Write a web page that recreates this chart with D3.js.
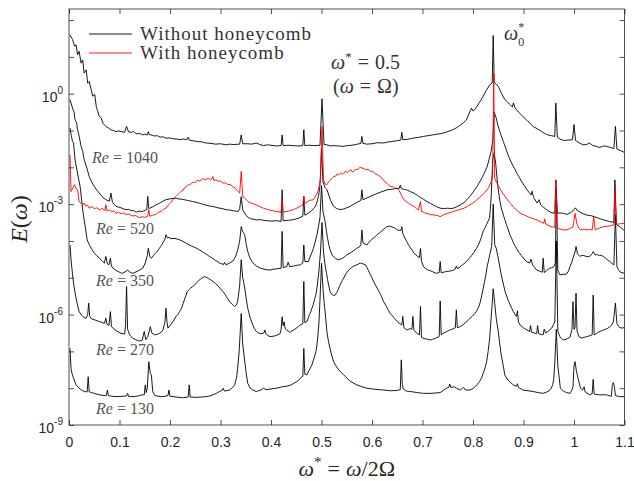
<!DOCTYPE html>
<html>
<head>
<meta charset="utf-8">
<script src="https://cdn.jsdelivr.net/npm/d3@7"></script>
<style>
  body { margin: 0; background: #fff; }
  text { fill: #262626; }
</style>
</head>
<body>
<div id="spectrumDiv"></div>
<script>
// frequency axis ticks / labels
var xTicks = [0, 0.1, 0.2, 0.3, 0.4, 0.5, 0.6, 0.7, 0.8, 0.9, 1, 1.1];
var xTickLabels = ["0", "0.1", "0.2", "0.3", "0.4", "0.5", "0.6", "0.7", "0.8", "0.9", "1", "1.1"];
var yTicks = [1e-9, 1e-8, 1e-7, 1e-6, 1e-5, 1e-4, 1e-3, 1e-2, 1e-1, 1e0, 1e1, 1e2];
var yLabelExps = [-9, -6, -3, 0];

// spectra: [omega*, log10 E]
var re1040 = [[0.002,1.60],[0.007,1.47],[0.011,1.29],[0.014,1.33],[0.017,1.06],[0.020,1.15],[0.024,0.83],[0.027,0.92],[0.030,0.56],[0.034,0.65],[0.037,0.29],[0.040,0.33],[0.044,0.11],[0.047,-0.07],[0.051,-0.02],[0.054,-0.35],[0.057,-0.48],[0.060,-0.62],[0.064,-0.66],[0.067,-0.80],[0.073,-0.89],[0.078,-0.93],[0.083,-0.98],[0.088,-1.00],[0.093,-1.03],[0.098,-1.01],[0.103,-1.03],[0.110,-1.05],[0.114,-0.89],[0.118,-1.04],[0.123,-1.05],[0.128,-1.03],[0.133,-1.09],[0.140,-1.08],[0.146,-1.12],[0.150,-1.10],[0.155,-1.12],[0.157,-1.03],[0.159,-1.11],[0.165,-1.13],[0.170,-1.15],[0.175,-1.14],[0.180,-1.18],[0.186,-1.17],[0.192,-1.21],[0.198,-1.20],[0.205,-1.22],[0.212,-1.23],[0.220,-1.25],[0.226,-1.23],[0.233,-1.25],[0.236,-1.18],[0.238,-1.26],[0.246,-1.28],[0.255,-1.30],[0.263,-1.31],[0.272,-1.34],[0.281,-1.35],[0.290,-1.37],[0.300,-1.36],[0.311,-1.39],[0.318,-1.37],[0.325,-1.38],[0.338,-1.37],[0.341,-1.12],[0.344,-1.36],[0.354,-1.36],[0.362,-1.37],[0.371,-1.34],[0.378,-1.38],[0.385,-1.41],[0.393,-1.39],[0.400,-1.40],[0.410,-1.42],[0.420,-1.41],[0.422,-1.12],[0.424,-1.41],[0.434,-1.40],[0.444,-1.41],[0.453,-1.42],[0.463,-1.41],[0.465,-0.98],[0.467,-1.41],[0.475,-1.40],[0.484,-1.41],[0.497,-1.40],[0.501,-0.14],[0.505,-1.38],[0.511,-1.39],[0.518,-1.42],[0.525,-1.41],[0.534,-1.42],[0.543,-1.43],[0.552,-1.41],[0.560,-1.40],[0.568,-1.38],[0.578,-1.35],[0.580,-1.16],[0.582,-1.35],[0.590,-1.37],[0.600,-1.36],[0.611,-1.33],[0.623,-1.34],[0.632,-1.31],[0.640,-1.30],[0.648,-1.28],[0.657,-1.26],[0.659,-1.05],[0.661,-1.25],[0.670,-1.24],[0.680,-1.21],[0.690,-1.19],[0.702,-1.16],[0.711,-1.14],[0.720,-1.12],[0.728,-1.10],[0.735,-1.09],[0.748,-1.04],[0.760,-0.98],[0.768,-0.92],[0.775,-0.85],[0.781,-0.79],[0.787,-0.71],[0.792,-0.55],[0.795,-0.45],[0.797,-0.39],[0.800,-0.47],[0.803,-0.44],[0.808,-0.34],[0.812,-0.25],[0.816,-0.17],[0.820,-0.07],[0.826,0.08],[0.833,0.24],[0.838,0.29],[0.840,1.58],[0.842,0.30],[0.846,0.26],[0.850,0.20],[0.856,0.02],[0.863,-0.16],[0.868,-0.22],[0.872,-0.28],[0.878,-0.36],[0.880,-0.25],[0.883,-0.38],[0.890,-0.50],[0.899,-0.62],[0.908,-0.74],[0.919,-0.89],[0.927,-0.95],[0.935,-1.02],[0.946,-1.11],[0.955,-1.14],[0.962,-1.16],[0.964,-0.25],[0.967,-1.18],[0.972,-1.23],[0.979,-1.27],[0.988,-1.26],[0.997,-1.25],[1.000,-0.84],[1.003,-1.27],[1.010,-1.33],[1.018,-1.39],[1.025,-1.38],[1.031,-1.34],[1.036,-1.40],[1.044,-1.43],[1.051,-1.46],[1.058,-1.42],[1.064,-1.43],[1.072,-1.46],[1.079,-1.49],[1.082,-0.89],[1.085,-1.51],[1.095,-1.56],[1.100,-1.60]];

var re520 = [[0.002,-0.16],[0.007,-0.39],[0.010,-0.50],[0.012,-0.71],[0.015,-0.78],[0.017,-0.98],[0.020,-1.15],[0.024,-1.43],[0.027,-1.55],[0.030,-1.79],[0.035,-2.00],[0.040,-2.25],[0.045,-2.40],[0.050,-2.52],[0.055,-2.62],[0.060,-2.70],[0.066,-2.80],[0.073,-2.88],[0.080,-2.92],[0.083,-2.70],[0.086,-2.95],[0.093,-3.06],[0.098,-3.08],[0.103,-3.10],[0.108,-3.13],[0.113,-3.15],[0.118,-3.14],[0.123,-3.18],[0.128,-3.17],[0.133,-3.22],[0.139,-3.19],[0.145,-3.20],[0.154,-3.15],[0.156,-2.79],[0.158,-3.12],[0.165,-3.08],[0.172,-3.02],[0.177,-2.99],[0.182,-2.95],[0.187,-2.91],[0.192,-2.88],[0.202,-2.85],[0.212,-2.84],[0.218,-2.86],[0.225,-2.87],[0.235,-2.90],[0.245,-2.93],[0.252,-2.95],[0.260,-2.98],[0.269,-3.02],[0.278,-3.05],[0.287,-3.07],[0.295,-3.10],[0.303,-3.12],[0.311,-3.15],[0.318,-3.16],[0.325,-3.18],[0.335,-3.20],[0.338,-3.12],[0.341,-2.80],[0.344,-3.15],[0.350,-3.30],[0.355,-3.36],[0.360,-3.40],[0.366,-3.41],[0.371,-3.43],[0.378,-3.42],[0.385,-3.44],[0.392,-3.45],[0.400,-3.46],[0.410,-3.45],[0.420,-3.47],[0.422,-2.61],[0.424,-3.45],[0.434,-3.44],[0.445,-3.42],[0.455,-3.38],[0.463,-3.33],[0.465,-2.79],[0.467,-3.30],[0.474,-3.25],[0.480,-3.18],[0.486,-3.10],[0.490,-3.00],[0.494,-2.79],[0.497,-2.50],[0.500,-1.50],[0.503,-2.40],[0.507,-2.55],[0.511,-2.61],[0.515,-2.78],[0.518,-2.90],[0.524,-3.06],[0.530,-3.12],[0.537,-3.15],[0.544,-3.13],[0.550,-3.10],[0.557,-3.06],[0.564,-3.00],[0.570,-2.95],[0.578,-2.90],[0.580,-2.61],[0.582,-2.88],[0.592,-2.82],[0.603,-2.75],[0.616,-2.68],[0.630,-2.61],[0.638,-2.60],[0.645,-2.58],[0.654,-2.57],[0.656,-2.48],[0.658,-2.58],[0.664,-2.60],[0.670,-2.62],[0.676,-2.66],[0.683,-2.70],[0.690,-2.76],[0.696,-2.82],[0.702,-2.87],[0.709,-2.93],[0.716,-2.98],[0.722,-3.03],[0.728,-3.07],[0.735,-3.11],[0.742,-3.12],[0.750,-3.11],[0.756,-3.12],[0.761,-3.11],[0.768,-3.07],[0.775,-3.02],[0.782,-2.96],[0.788,-2.88],[0.793,-2.80],[0.798,-2.72],[0.803,-2.62],[0.808,-2.52],[0.813,-2.40],[0.818,-2.28],[0.823,-2.14],[0.828,-1.98],[0.832,-1.78],[0.836,-1.55],[0.839,-1.30],[0.842,-0.50],[0.846,-0.66],[0.850,-0.90],[0.854,-1.07],[0.860,-1.30],[0.864,-1.45],[0.868,-1.61],[0.872,-1.75],[0.877,-1.90],[0.882,-2.03],[0.887,-2.16],[0.892,-2.28],[0.897,-2.40],[0.902,-2.51],[0.907,-2.61],[0.911,-2.68],[0.915,-2.75],[0.917,-2.65],[0.920,-2.82],[0.927,-2.97],[0.931,-2.88],[0.934,-3.02],[0.940,-3.09],[0.946,-3.15],[0.953,-3.22],[0.962,-3.25],[0.964,-2.34],[0.967,-3.25],[0.972,-3.24],[0.979,-3.25],[0.986,-3.28],[0.995,-3.22],[1.003,-3.10],[1.006,-3.17],[1.010,-3.20],[1.018,-3.26],[1.026,-3.30],[1.033,-3.31],[1.040,-3.34],[1.050,-3.39],[1.059,-3.43],[1.070,-3.47],[1.079,-3.50],[1.081,-2.34],[1.084,-3.55],[1.092,-3.63],[1.100,-3.72]];

var re520Honeycomb = [[0.002,-1.66],[0.004,-2.66],[0.008,-2.55],[0.011,-2.47],[0.014,-2.58],[0.017,-2.61],[0.020,-2.93],[0.024,-2.98],[0.027,-3.02],[0.030,-2.97],[0.033,-3.05],[0.037,-3.03],[0.040,-3.11],[0.045,-3.07],[0.050,-3.12],[0.055,-3.10],[0.060,-3.15],[0.066,-3.12],[0.071,-3.17],[0.073,-3.02],[0.075,-3.18],[0.080,-3.16],[0.085,-3.20],[0.089,-3.18],[0.093,-3.25],[0.098,-3.22],[0.103,-3.26],[0.108,-3.24],[0.113,-3.28],[0.119,-3.27],[0.125,-3.32],[0.132,-3.31],[0.139,-3.37],[0.145,-3.34],[0.150,-3.36],[0.156,-3.33],[0.158,-3.15],[0.160,-3.33],[0.166,-3.30],[0.172,-3.28],[0.177,-3.22],[0.182,-3.20],[0.187,-3.14],[0.192,-3.11],[0.197,-3.02],[0.202,-2.95],[0.207,-2.85],[0.212,-2.79],[0.217,-2.72],[0.222,-2.65],[0.226,-2.62],[0.229,-2.55],[0.232,-2.52],[0.236,-2.47],[0.239,-2.48],[0.242,-2.44],[0.246,-2.40],[0.249,-2.42],[0.252,-2.38],[0.256,-2.35],[0.259,-2.38],[0.262,-2.34],[0.266,-2.30],[0.269,-2.35],[0.272,-2.32],[0.276,-2.30],[0.280,-2.34],[0.283,-2.31],[0.285,-2.25],[0.287,-2.36],[0.291,-2.34],[0.296,-2.38],[0.300,-2.37],[0.305,-2.43],[0.309,-2.42],[0.315,-2.47],[0.319,-2.46],[0.324,-2.52],[0.328,-2.55],[0.332,-2.62],[0.335,-2.66],[0.338,-2.70],[0.341,-2.11],[0.344,-2.80],[0.348,-2.84],[0.351,-2.88],[0.355,-2.93],[0.360,-2.97],[0.365,-2.99],[0.371,-3.02],[0.378,-3.07],[0.385,-3.11],[0.392,-3.14],[0.400,-3.17],[0.410,-3.20],[0.420,-3.22],[0.422,-2.88],[0.424,-3.22],[0.434,-3.19],[0.445,-3.15],[0.455,-3.08],[0.463,-3.02],[0.465,-2.79],[0.467,-2.98],[0.476,-2.90],[0.484,-2.88],[0.490,-2.75],[0.494,-2.61],[0.498,-2.30],[0.501,-0.89],[0.504,-2.35],[0.507,-2.45],[0.511,-2.47],[0.514,-2.40],[0.517,-2.35],[0.521,-2.30],[0.524,-2.25],[0.528,-2.24],[0.531,-2.18],[0.534,-2.20],[0.538,-2.15],[0.541,-2.19],[0.544,-2.16],[0.548,-2.10],[0.551,-2.14],[0.554,-2.12],[0.558,-2.06],[0.561,-2.12],[0.564,-2.11],[0.568,-2.05],[0.572,-2.06],[0.576,-2.00],[0.580,-2.02],[0.584,-2.03],[0.588,-2.07],[0.592,-2.05],[0.597,-2.11],[0.601,-2.10],[0.606,-2.17],[0.611,-2.20],[0.616,-2.25],[0.620,-2.30],[0.626,-2.40],[0.631,-2.45],[0.636,-2.52],[0.641,-2.52],[0.645,-2.57],[0.649,-2.56],[0.653,-2.61],[0.658,-2.75],[0.663,-2.88],[0.668,-2.93],[0.673,-2.98],[0.678,-3.03],[0.683,-3.06],[0.688,-3.12],[0.692,-3.16],[0.696,-2.93],[0.698,-3.20],[0.702,-3.22],[0.706,-3.25],[0.711,-3.26],[0.716,-3.28],[0.721,-3.29],[0.725,-3.30],[0.730,-3.31],[0.735,-3.34],[0.742,-3.29],[0.749,-3.25],[0.757,-3.22],[0.765,-3.18],[0.773,-3.15],[0.782,-3.11],[0.789,-3.06],[0.796,-3.00],[0.802,-2.95],[0.808,-2.88],[0.813,-2.82],[0.818,-2.76],[0.823,-2.69],[0.828,-2.61],[0.832,-2.52],[0.836,-2.40],[0.839,-2.20],[0.841,0.56],[0.843,-2.30],[0.847,-2.42],[0.851,-2.52],[0.855,-2.62],[0.860,-2.72],[0.864,-2.80],[0.868,-2.88],[0.874,-2.98],[0.880,-3.08],[0.887,-3.17],[0.894,-3.25],[0.902,-3.30],[0.910,-3.35],[0.918,-3.39],[0.927,-3.43],[0.934,-3.48],[0.940,-3.52],[0.942,-3.40],[0.944,-3.54],[0.948,-3.57],[0.953,-3.61],[0.962,-3.63],[0.964,-2.37],[0.967,-3.65],[0.973,-3.68],[0.979,-3.70],[0.986,-3.70],[0.992,-3.66],[0.998,-3.62],[1.002,-3.25],[1.006,-3.55],[1.010,-3.66],[1.013,-3.70],[1.020,-3.68],[1.026,-3.70],[1.031,-3.69],[1.036,-3.70],[1.039,-3.34],[1.042,-3.70],[1.050,-3.65],[1.059,-3.61],[1.067,-3.60],[1.075,-3.58],[1.079,-3.56],[1.081,-2.61],[1.084,-3.55],[1.092,-3.53],[1.100,-3.52]];

var re350 = [[0.002,-0.93],[0.004,-1.10],[0.007,-1.30],[0.009,-1.34],[0.012,-1.80],[0.016,-2.10],[0.022,-2.52],[0.028,-3.25],[0.032,-3.60],[0.036,-3.97],[0.040,-4.10],[0.045,-4.22],[0.050,-4.33],[0.055,-4.40],[0.060,-4.47],[0.066,-4.55],[0.070,-4.60],[0.073,-4.42],[0.076,-4.62],[0.079,-4.65],[0.082,-4.47],[0.084,-4.68],[0.087,-4.74],[0.092,-4.79],[0.097,-4.83],[0.102,-4.86],[0.106,-4.88],[0.111,-4.84],[0.116,-4.79],[0.121,-4.85],[0.126,-4.88],[0.131,-4.85],[0.136,-4.82],[0.141,-4.78],[0.146,-4.74],[0.151,-4.60],[0.155,-4.40],[0.157,-4.20],[0.160,-4.42],[0.163,-4.47],[0.167,-4.40],[0.170,-4.35],[0.175,-4.28],[0.179,-4.20],[0.183,-4.12],[0.186,-4.05],[0.190,-3.95],[0.192,-3.83],[0.195,-3.92],[0.198,-3.90],[0.202,-3.94],[0.206,-3.93],[0.212,-3.94],[0.219,-3.97],[0.224,-4.00],[0.228,-4.03],[0.233,-4.07],[0.238,-4.11],[0.243,-4.14],[0.248,-4.17],[0.253,-4.20],[0.258,-4.24],[0.263,-4.28],[0.268,-4.33],[0.273,-4.37],[0.278,-4.42],[0.283,-4.46],[0.288,-4.51],[0.293,-4.55],[0.298,-4.60],[0.302,-4.62],[0.306,-4.64],[0.308,-4.58],[0.311,-4.65],[0.318,-4.60],[0.324,-4.55],[0.328,-4.47],[0.331,-4.38],[0.334,-4.24],[0.338,-4.00],[0.341,-3.61],[0.344,-3.75],[0.348,-3.83],[0.351,-4.10],[0.354,-4.29],[0.358,-4.45],[0.362,-4.55],[0.366,-4.62],[0.371,-4.68],[0.379,-4.74],[0.390,-4.78],[0.398,-4.79],[0.404,-4.77],[0.410,-4.76],[0.420,-4.74],[0.422,-3.74],[0.424,-4.72],[0.431,-4.70],[0.434,-4.58],[0.437,-4.70],[0.445,-4.68],[0.452,-4.66],[0.458,-4.65],[0.463,-4.60],[0.465,-4.11],[0.467,-4.56],[0.474,-4.56],[0.477,-4.45],[0.480,-4.35],[0.484,-4.20],[0.488,-4.00],[0.491,-3.83],[0.494,-3.60],[0.497,-3.37],[0.500,-2.50],[0.503,-3.20],[0.507,-3.47],[0.510,-3.75],[0.512,-3.93],[0.516,-4.20],[0.521,-4.38],[0.528,-4.48],[0.534,-4.51],[0.542,-4.47],[0.550,-4.38],[0.560,-4.30],[0.570,-4.20],[0.576,-4.15],[0.578,-4.10],[0.580,-3.70],[0.582,-4.05],[0.586,-4.08],[0.590,-4.11],[0.595,-4.02],[0.600,-3.95],[0.605,-3.90],[0.610,-3.83],[0.615,-3.78],[0.620,-3.72],[0.625,-3.66],[0.630,-3.61],[0.635,-3.60],[0.640,-3.62],[0.645,-3.65],[0.650,-3.70],[0.657,-3.72],[0.659,-3.61],[0.661,-3.80],[0.665,-3.92],[0.669,-4.02],[0.672,-4.10],[0.676,-4.18],[0.680,-4.26],[0.683,-4.33],[0.687,-4.38],[0.690,-4.42],[0.694,-4.45],[0.696,-4.20],[0.698,-4.55],[0.702,-4.70],[0.706,-4.75],[0.710,-4.78],[0.719,-4.83],[0.727,-4.88],[0.733,-4.86],[0.735,-4.56],[0.737,-4.86],[0.742,-4.85],[0.747,-4.83],[0.754,-4.82],[0.760,-4.80],[0.765,-4.76],[0.767,-4.68],[0.769,-4.75],[0.773,-4.72],[0.777,-4.67],[0.782,-4.62],[0.787,-4.56],[0.792,-4.48],[0.797,-4.40],[0.802,-4.31],[0.807,-4.20],[0.811,-4.10],[0.814,-4.00],[0.817,-3.88],[0.820,-3.74],[0.824,-3.64],[0.827,-3.55],[0.830,-3.46],[0.833,-3.37],[0.836,-2.80],[0.839,-1.80],[0.842,-1.60],[0.845,-1.90],[0.849,-2.50],[0.853,-2.90],[0.856,-3.10],[0.860,-3.29],[0.863,-3.42],[0.866,-3.55],[0.870,-3.70],[0.873,-3.83],[0.877,-3.95],[0.880,-4.05],[0.883,-4.13],[0.886,-4.20],[0.891,-4.31],[0.896,-4.40],[0.901,-4.49],[0.906,-4.56],[0.912,-4.60],[0.915,-4.50],[0.918,-4.65],[0.922,-4.72],[0.926,-4.79],[0.932,-4.82],[0.937,-4.85],[0.939,-4.47],[0.941,-4.86],[0.946,-4.80],[0.952,-4.74],[0.956,-4.73],[0.960,-4.70],[0.963,-4.60],[0.965,-2.60],[0.968,-4.80],[0.972,-4.92],[0.978,-4.91],[0.985,-4.90],[0.989,-4.82],[0.992,-4.70],[0.995,-4.60],[0.998,-4.47],[1.002,-4.30],[1.004,-4.15],[1.007,-4.35],[1.012,-4.42],[1.016,-4.39],[1.020,-4.40],[1.026,-4.43],[1.031,-4.42],[1.036,-4.35],[1.038,-4.29],[1.042,-4.38],[1.046,-4.37],[1.050,-4.40],[1.054,-4.39],[1.058,-4.42],[1.062,-4.46],[1.065,-4.50],[1.071,-4.56],[1.075,-4.61],[1.079,-4.65],[1.082,-3.29],[1.085,-4.70],[1.088,-4.78],[1.092,-4.85],[1.100,-4.88]];

var re270 = [[0.002,-4.11],[0.004,-4.50],[0.007,-4.92],[0.010,-5.25],[0.014,-5.56],[0.017,-5.75],[0.020,-5.92],[0.025,-6.02],[0.030,-6.08],[0.034,-6.10],[0.037,-6.00],[0.039,-5.69],[0.041,-6.05],[0.045,-6.12],[0.052,-6.15],[0.060,-6.19],[0.065,-6.21],[0.070,-6.24],[0.073,-6.10],[0.075,-6.26],[0.079,-6.30],[0.082,-5.92],[0.084,-6.32],[0.087,-6.37],[0.091,-6.41],[0.095,-6.45],[0.099,-6.48],[0.103,-6.51],[0.110,-6.53],[0.112,-6.30],[0.114,-5.24],[0.116,-6.40],[0.120,-6.55],[0.123,-6.60],[0.126,-6.64],[0.132,-6.68],[0.139,-6.72],[0.145,-6.70],[0.149,-6.46],[0.152,-6.68],[0.156,-6.60],[0.161,-6.33],[0.164,-6.50],[0.169,-6.55],[0.174,-6.54],[0.179,-6.51],[0.183,-6.47],[0.186,-6.42],[0.190,-6.20],[0.192,-5.83],[0.194,-6.20],[0.196,-6.37],[0.201,-6.28],[0.206,-6.19],[0.209,-6.12],[0.212,-6.05],[0.216,-5.99],[0.219,-5.92],[0.223,-5.82],[0.226,-5.70],[0.229,-5.58],[0.232,-5.47],[0.234,-5.38],[0.238,-5.32],[0.241,-5.28],[0.245,-5.24],[0.249,-5.19],[0.252,-5.15],[0.255,-5.10],[0.258,-5.06],[0.263,-5.01],[0.268,-4.97],[0.272,-4.99],[0.276,-5.02],[0.280,-5.05],[0.285,-5.10],[0.290,-5.15],[0.295,-5.22],[0.300,-5.30],[0.305,-5.38],[0.309,-5.45],[0.312,-5.52],[0.315,-5.58],[0.318,-5.65],[0.323,-5.72],[0.328,-5.78],[0.331,-5.75],[0.334,-5.65],[0.338,-5.20],[0.341,-4.51],[0.344,-5.00],[0.348,-5.28],[0.351,-5.58],[0.354,-5.83],[0.359,-6.10],[0.364,-6.28],[0.367,-6.38],[0.371,-6.46],[0.375,-6.50],[0.380,-6.52],[0.386,-6.50],[0.388,-6.42],[0.390,-6.52],[0.394,-6.57],[0.398,-6.60],[0.404,-6.59],[0.410,-6.57],[0.418,-6.52],[0.420,-6.40],[0.422,-6.06],[0.424,-6.30],[0.426,-6.20],[0.428,-6.38],[0.431,-6.42],[0.437,-6.48],[0.441,-6.45],[0.445,-6.42],[0.452,-6.35],[0.458,-6.28],[0.463,-6.25],[0.465,-5.10],[0.467,-6.22],[0.471,-6.19],[0.474,-6.09],[0.476,-6.00],[0.479,-5.92],[0.481,-5.83],[0.484,-5.72],[0.486,-5.60],[0.489,-5.45],[0.491,-5.28],[0.495,-4.80],[0.498,-4.30],[0.501,-3.50],[0.504,-4.30],[0.507,-4.65],[0.510,-4.88],[0.512,-5.05],[0.515,-5.25],[0.517,-5.38],[0.521,-5.46],[0.524,-5.48],[0.527,-5.47],[0.530,-5.41],[0.532,-5.35],[0.537,-5.19],[0.541,-5.08],[0.545,-4.98],[0.549,-4.88],[0.554,-4.79],[0.558,-4.74],[0.562,-4.70],[0.566,-4.67],[0.570,-4.65],[0.574,-4.62],[0.577,-4.60],[0.582,-4.62],[0.587,-4.65],[0.590,-4.72],[0.592,-4.78],[0.597,-4.92],[0.600,-5.00],[0.603,-5.10],[0.607,-5.20],[0.610,-5.28],[0.614,-5.38],[0.617,-5.46],[0.620,-5.55],[0.623,-5.65],[0.627,-5.74],[0.630,-5.82],[0.633,-5.90],[0.636,-5.97],[0.640,-6.03],[0.643,-6.08],[0.647,-6.14],[0.650,-6.19],[0.655,-6.25],[0.659,-6.28],[0.661,-6.05],[0.663,-6.35],[0.669,-6.42],[0.676,-6.38],[0.679,-6.40],[0.681,-6.05],[0.683,-6.42],[0.688,-6.50],[0.694,-6.55],[0.696,-5.78],[0.698,-6.62],[0.705,-6.66],[0.710,-6.67],[0.716,-6.69],[0.720,-6.67],[0.725,-6.65],[0.733,-6.60],[0.735,-5.63],[0.737,-6.55],[0.741,-6.51],[0.745,-6.48],[0.750,-6.45],[0.754,-6.42],[0.758,-6.40],[0.762,-6.38],[0.765,-6.36],[0.767,-5.87],[0.769,-6.36],[0.774,-6.33],[0.780,-6.28],[0.785,-6.22],[0.790,-6.16],[0.794,-6.10],[0.799,-6.04],[0.803,-5.98],[0.807,-5.91],[0.810,-5.83],[0.814,-5.68],[0.817,-5.50],[0.820,-5.30],[0.823,-5.10],[0.826,-4.88],[0.828,-4.70],[0.831,-4.52],[0.833,-4.38],[0.837,-4.15],[0.840,-3.00],[0.843,-4.10],[0.846,-4.20],[0.849,-4.40],[0.851,-4.55],[0.854,-4.78],[0.856,-4.92],[0.858,-5.05],[0.861,-5.22],[0.863,-5.35],[0.866,-5.47],[0.870,-5.62],[0.873,-5.72],[0.877,-5.84],[0.880,-5.92],[0.883,-5.99],[0.886,-6.05],[0.888,-5.90],[0.890,-6.20],[0.893,-6.28],[0.898,-6.34],[0.902,-6.38],[0.907,-6.42],[0.912,-6.46],[0.914,-6.30],[0.916,-6.48],[0.921,-6.50],[0.926,-6.52],[0.928,-6.30],[0.930,-6.52],[0.935,-6.54],[0.939,-6.55],[0.941,-6.40],[0.944,-6.50],[0.948,-6.46],[0.952,-6.42],[0.956,-6.36],[0.959,-6.28],[0.962,-6.20],[0.965,-4.00],[0.968,-6.45],[0.972,-6.60],[0.975,-6.65],[0.979,-6.69],[0.985,-6.67],[0.992,-6.62],[0.996,-6.40],[0.998,-5.65],[1.000,-6.40],[1.002,-6.35],[1.004,-5.42],[1.006,-6.45],[1.010,-6.60],[1.015,-6.64],[1.020,-6.62],[1.025,-6.60],[1.030,-6.58],[1.036,-6.55],[1.038,-5.47],[1.040,-6.55],[1.044,-6.52],[1.048,-6.48],[1.053,-6.45],[1.058,-6.42],[1.062,-6.40],[1.066,-6.38],[1.071,-6.33],[1.075,-6.28],[1.078,-6.20],[1.082,-5.69],[1.085,-6.25],[1.090,-6.35],[1.097,-6.37],[1.100,-6.33]];

var re130 = [[0.002,-6.92],[0.004,-7.46],[0.006,-7.60],[0.009,-7.73],[0.014,-7.91],[0.020,-8.00],[0.025,-8.05],[0.030,-8.09],[0.036,-8.10],[0.038,-7.69],[0.040,-8.10],[0.045,-8.12],[0.050,-8.14],[0.055,-8.16],[0.060,-8.18],[0.070,-8.20],[0.074,-8.20],[0.076,-8.05],[0.078,-8.20],[0.085,-8.22],[0.093,-8.23],[0.105,-8.22],[0.114,-8.21],[0.116,-8.14],[0.118,-8.22],[0.130,-8.23],[0.140,-8.20],[0.145,-8.18],[0.149,-8.18],[0.151,-7.91],[0.153,-8.12],[0.155,-8.00],[0.158,-7.28],[0.161,-7.60],[0.163,-7.64],[0.166,-8.10],[0.170,-8.20],[0.182,-8.23],[0.190,-8.22],[0.196,-8.20],[0.198,-8.05],[0.200,-8.22],[0.212,-8.24],[0.225,-8.26],[0.236,-8.24],[0.238,-7.91],[0.240,-8.24],[0.250,-8.25],[0.262,-8.24],[0.272,-8.23],[0.279,-8.21],[0.285,-8.18],[0.292,-8.14],[0.298,-8.09],[0.303,-8.06],[0.305,-8.00],[0.308,-8.08],[0.318,-8.05],[0.324,-7.98],[0.328,-7.91],[0.332,-7.70],[0.334,-7.46],[0.337,-7.00],[0.341,-5.97],[0.344,-6.80],[0.348,-7.28],[0.351,-7.60],[0.354,-7.87],[0.359,-8.00],[0.364,-8.05],[0.371,-8.09],[0.380,-8.05],[0.385,-8.00],[0.390,-8.04],[0.400,-8.02],[0.410,-8.00],[0.418,-7.98],[0.422,-7.96],[0.430,-7.95],[0.438,-7.92],[0.445,-7.87],[0.450,-7.83],[0.455,-7.78],[0.461,-7.69],[0.463,-7.68],[0.465,-6.92],[0.467,-7.62],[0.471,-7.64],[0.476,-7.50],[0.481,-7.37],[0.486,-7.15],[0.489,-7.00],[0.491,-6.83],[0.493,-6.55],[0.495,-6.20],[0.497,-5.60],[0.500,-4.60],[0.503,-5.30],[0.505,-5.65],[0.507,-5.90],[0.509,-6.20],[0.511,-6.50],[0.514,-6.74],[0.519,-7.05],[0.524,-7.28],[0.528,-7.38],[0.533,-7.48],[0.538,-7.56],[0.544,-7.64],[0.550,-7.72],[0.556,-7.80],[0.563,-7.86],[0.570,-7.91],[0.580,-7.96],[0.590,-8.00],[0.605,-8.03],[0.623,-8.05],[0.637,-8.07],[0.650,-8.06],[0.656,-8.04],[0.658,-7.23],[0.660,-7.90],[0.662,-8.02],[0.668,-8.08],[0.676,-8.09],[0.690,-8.12],[0.702,-8.14],[0.718,-8.14],[0.735,-8.12],[0.741,-8.06],[0.747,-8.00],[0.752,-7.98],[0.754,-7.89],[0.756,-7.98],[0.762,-7.96],[0.767,-8.00],[0.775,-8.05],[0.781,-7.98],[0.786,-8.05],[0.794,-8.05],[0.800,-8.01],[0.805,-7.95],[0.809,-7.89],[0.813,-7.82],[0.817,-7.72],[0.820,-7.60],[0.824,-7.45],[0.827,-7.28],[0.830,-7.00],[0.833,-6.64],[0.837,-5.90],[0.840,-5.30],[0.843,-5.70],[0.846,-6.10],[0.850,-6.46],[0.853,-6.80],[0.856,-7.10],[0.860,-7.40],[0.863,-7.64],[0.867,-7.74],[0.872,-7.82],[0.880,-7.91],[0.886,-7.95],[0.888,-7.88],[0.890,-7.98],[0.899,-8.05],[0.909,-8.07],[0.919,-8.09],[0.929,-8.12],[0.939,-8.14],[0.945,-8.11],[0.950,-8.08],[0.955,-8.00],[0.958,-7.90],[0.960,-7.73],[0.962,-7.30],[0.965,-6.40],[0.968,-7.40],[0.970,-7.64],[0.973,-8.00],[0.979,-8.08],[0.985,-8.12],[0.992,-8.14],[0.996,-8.05],[0.998,-7.95],[1.000,-7.40],[1.002,-7.28],[1.005,-7.55],[1.008,-7.73],[1.013,-8.00],[1.017,-8.05],[1.020,-7.96],[1.022,-8.10],[1.031,-8.18],[1.036,-8.15],[1.038,-7.76],[1.040,-8.16],[1.050,-8.18],[1.064,-8.18],[1.074,-8.22],[1.076,-7.90],[1.078,-7.85],[1.080,-7.95],[1.082,-8.20],[1.090,-8.23],[1.100,-8.23]];

var reLabels = ["1040", "520", "350", "270", "130"];

function loadSpectrum() {
    var width = 634, height = 481;
    var left = 69, right = 624.5, top = 9, bottom = 425;
    var serif = "Liberation Serif, Times New Roman, Times, serif";
    var sans = "Liberation Sans, Arial, Helvetica, sans-serif";

    var svg = d3.select("#spectrumDiv")
        .append("svg")
        .attr("width", width)
        .attr("height", height)
        .style("display", "block");

    var x = d3.scaleLinear().domain([0, 1.1]).range([left, right]);
    var y = d3.scaleLog().domain([1e-9, 2e2]).range([bottom, top]);

    var line = d3.line()
        .x(function (d) { return x(d[0]); })
        .y(function (d) { return y(Math.pow(10, d[1])); });

    svg.append("clipPath").attr("id", "plotClip")
        .append("rect")
        .attr("x", left).attr("y", top)
        .attr("width", right - left).attr("height", bottom - top);

    var plot = svg.append("g").attr("clip-path", "url(#plotClip)");

    // black spectra first, honeycomb case drawn over them
    [re1040, re520, re350, re270, re130].forEach(function (s) {
        plot.append("path")
            .datum(s)
            .attr("d", line)
            .style("fill", "none")
            .style("stroke", "#000")
            .style("stroke-width", 0.9)
            .style("stroke-linejoin", "round");
    });
    plot.append("path")
        .datum(re520Honeycomb)
        .attr("d", line)
        .style("fill", "none")
        .style("stroke", "#ff0000")
        .style("stroke-width", 0.9)
        .style("stroke-linejoin", "round");

    // axes, ticks inside like matlab
    var axisColor = "#262626";
    var bottomAxis = svg.append("g")
        .attr("transform", "translate(0," + bottom + ")")
        .call(d3.axisBottom(x).tickValues(xTicks).tickSize(-5).tickPadding(12)
            .tickFormat(function (d, i) { return xTickLabels[i]; }));
    var topAxis = svg.append("g")
        .attr("transform", "translate(0," + top + ")")
        .call(d3.axisTop(x).tickValues(xTicks).tickSize(-5).tickFormat(""));
    var leftAxis = svg.append("g")
        .attr("transform", "translate(" + left + ",0)")
        .call(d3.axisLeft(y).tickValues(yTicks).tickSize(-5).tickFormat(""));
    var rightAxis = svg.append("g")
        .attr("transform", "translate(" + right + ",0)")
        .call(d3.axisRight(y).tickValues(yTicks).tickSize(-5).tickFormat(""));

    [bottomAxis, topAxis, leftAxis, rightAxis].forEach(function (a) {
        a.selectAll(".domain").remove();
        a.selectAll("line").style("stroke", axisColor).style("stroke-width", 0.8);
    });
    bottomAxis.attr("font-family", sans).attr("font-size", 14);
    bottomAxis.selectAll("text").style("fill", "#262626");

    svg.append("rect")
        .attr("x", left).attr("y", top)
        .attr("width", right - left).attr("height", bottom - top)
        .style("fill", "none")
        .style("stroke", axisColor)
        .style("stroke-width", 0.8);

    // y tick labels 10^n
    yLabelExps.forEach(function (e) {
        var t = svg.append("text")
            .attr("x", 63)
            .attr("y", y(Math.pow(10, e)) + 8)
            .attr("text-anchor", "end")
            .attr("font-family", sans)
            .attr("font-size", 14)
            .style("fill", "#262626");
        t.append("tspan").text("10");
        t.append("tspan").attr("dy", -8).attr("font-size", 10).text(e);
    });

    // axis labels
    var xl = svg.append("text")
        .attr("x", (left + right) / 2)
        .attr("y", 476)
        .attr("text-anchor", "middle")
        .attr("font-family", serif)
        .attr("font-size", 22);
    xl.append("tspan").attr("font-style", "italic").text("ω");
    xl.append("tspan").attr("dy", -9).attr("font-size", 15).text("*");
    xl.append("tspan").attr("dy", 9).attr("dx", 6).text("=");
    xl.append("tspan").attr("dx", 6).attr("font-style", "italic").text("ω");
    xl.append("tspan").text("/2Ω");

    var yl = svg.append("text")
        .attr("transform", "translate(27," + ((top + bottom) / 2 + 2) + ") rotate(-90)")
        .attr("text-anchor", "middle")
        .attr("font-family", serif)
        .attr("font-size", 24);
    yl.append("tspan").attr("font-style", "italic").text("E");
    yl.append("tspan").text("(");
    yl.append("tspan").attr("font-style", "italic").text("ω");
    yl.append("tspan").text(")");

    // legend
    var legend = [{label: "Without honeycomb", color: "#000", y: 34},
                  {label: "With honeycomb", color: "#ff0000", y: 53}];
    legend.forEach(function (l) {
        svg.append("line")
            .attr("x1", 89).attr("x2", 132)
            .attr("y1", l.y).attr("y2", l.y)
            .style("stroke", l.color)
            .style("stroke-width", 0.9);
        svg.append("text")
            .attr("x", 140)
            .attr("y", l.y + 6)
            .attr("font-family", serif)
            .attr("font-size", 19)
            .style("letter-spacing", "1px")
            .style("fill", "#333")
            .text(l.label);
    });

    // annotations
    var a1 = svg.append("text").attr("x", 331).attr("y", 69)
        .attr("font-family", serif).attr("font-size", 20).style("fill", "#333");
    a1.append("tspan").attr("font-style", "italic").text("ω");
    a1.append("tspan").attr("dy", -8).attr("font-size", 13).text("*");
    a1.append("tspan").attr("dy", 8).attr("dx", 6).text("=");
    a1.append("tspan").attr("dx", 6).text("0.5");

    var a2 = svg.append("text").attr("x", 333).attr("y", 93)
        .attr("font-family", serif).attr("font-size", 20).style("fill", "#333");
    a2.append("tspan").text("(");
    a2.append("tspan").attr("font-style", "italic").text("ω");
    a2.append("tspan").attr("dx", 6).text("=");
    a2.append("tspan").attr("dx", 6).text("Ω)");

    // omega_0^* : star above, zero below
    var a3 = svg.append("text").attr("x", 504).attr("y", 40)
        .attr("font-family", serif).attr("font-size", 20).style("fill", "#333");
    a3.append("tspan").attr("font-style", "italic").text("ω");
    a3.append("tspan").attr("dy", -9).attr("font-size", 12).text("*");
    a3.append("tspan").attr("dx", -6).attr("dy", 15).attr("font-size", 12).text("0");

    // Re labels
    var reLabelPos = [[92, 163], [96, 234], [96, 286], [96, 355], [96, 414]];
    reLabels.forEach(function (r, i) {
        var t = svg.append("text")
            .attr("x", reLabelPos[i][0])
            .attr("y", reLabelPos[i][1])
            .attr("font-family", serif)
            .attr("font-size", 16)
            .style("fill", "#555");
        t.append("tspan").attr("font-style", "italic").text("Re");
        t.append("tspan").attr("dx", 4).text("=");
        t.append("tspan").attr("dx", 4).text(r);
    });
}

loadSpectrum();
</script>
</body>
</html>
